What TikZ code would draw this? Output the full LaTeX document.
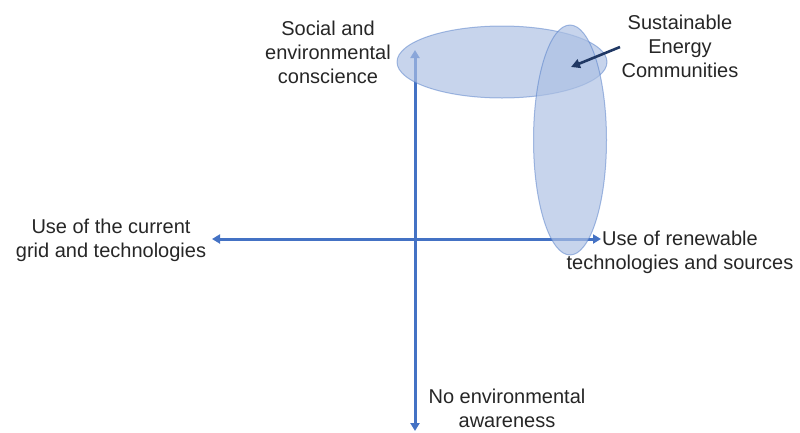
\documentclass[tikz,border=0pt]{standalone}
\usepackage{fontspec}
\setmainfont{Liberation Sans}
\usetikzlibrary{arrows.meta}
\definecolor{axisblue}{HTML}{4472C4}
\definecolor{zonefill}{HTML}{ACC0E3}
\definecolor{navy}{HTML}{203864}
\definecolor{txt}{HTML}{262626}
\begin{document}
\begin{tikzpicture}[x=1pt,y=-1pt,
  lbl/.style={align=center,inner sep=0pt,text=txt,font=\fontsize{20}{24}\selectfont},
  axisline/.style={draw=axisblue,line width=3pt,-{Triangle[length=8pt,width=9pt]}},
  zone/.style={fill=zonefill,fill opacity=0.68,draw=axisblue,draw opacity=0.45,line width=1pt},
  pointer/.style={draw=navy,line width=2.6pt,-{Triangle[length=9pt,width=9pt]}}]
\useasboundingbox (0,0) rectangle (800,432);

% axes
\coordinate (o) at (415,239);
\coordinate (top) at (415,50);
\coordinate (bot) at (415,431);
\coordinate (lft) at (212,239);
\coordinate (rgt) at (601,239);
\draw[axisline] (o) -- (top);
\draw[axisline] (o) -- (bot);
\draw[axisline] (o) -- (lft);
\draw[axisline] (o) -- (rgt);

% overlapping zones
\path[zone] (502,62) ellipse [x radius=105, y radius=36];
\path[zone] (570,140) ellipse [x radius=36.5, y radius=115];

% labels
\node[lbl] (soc) at (328,52) {Social and\\environmental\\conscience};
\node[lbl] (sec) at (680,46) {Sustainable\\Energy\\Communities};
\node[lbl] (cur) at (111,240) {Use of the current\\grid and technologies};
\node[lbl] (ren) at (680,252) {Use of renewable\\technologies and sources};
\node[lbl] (noe) at (507,408) {No environmental\\awareness};

% pointer to the overlap
\coordinate (tail) at (620,47);
\coordinate (tip) at (571,67);
\draw[pointer] (tail) -- (tip);
\end{tikzpicture}
\end{document}
